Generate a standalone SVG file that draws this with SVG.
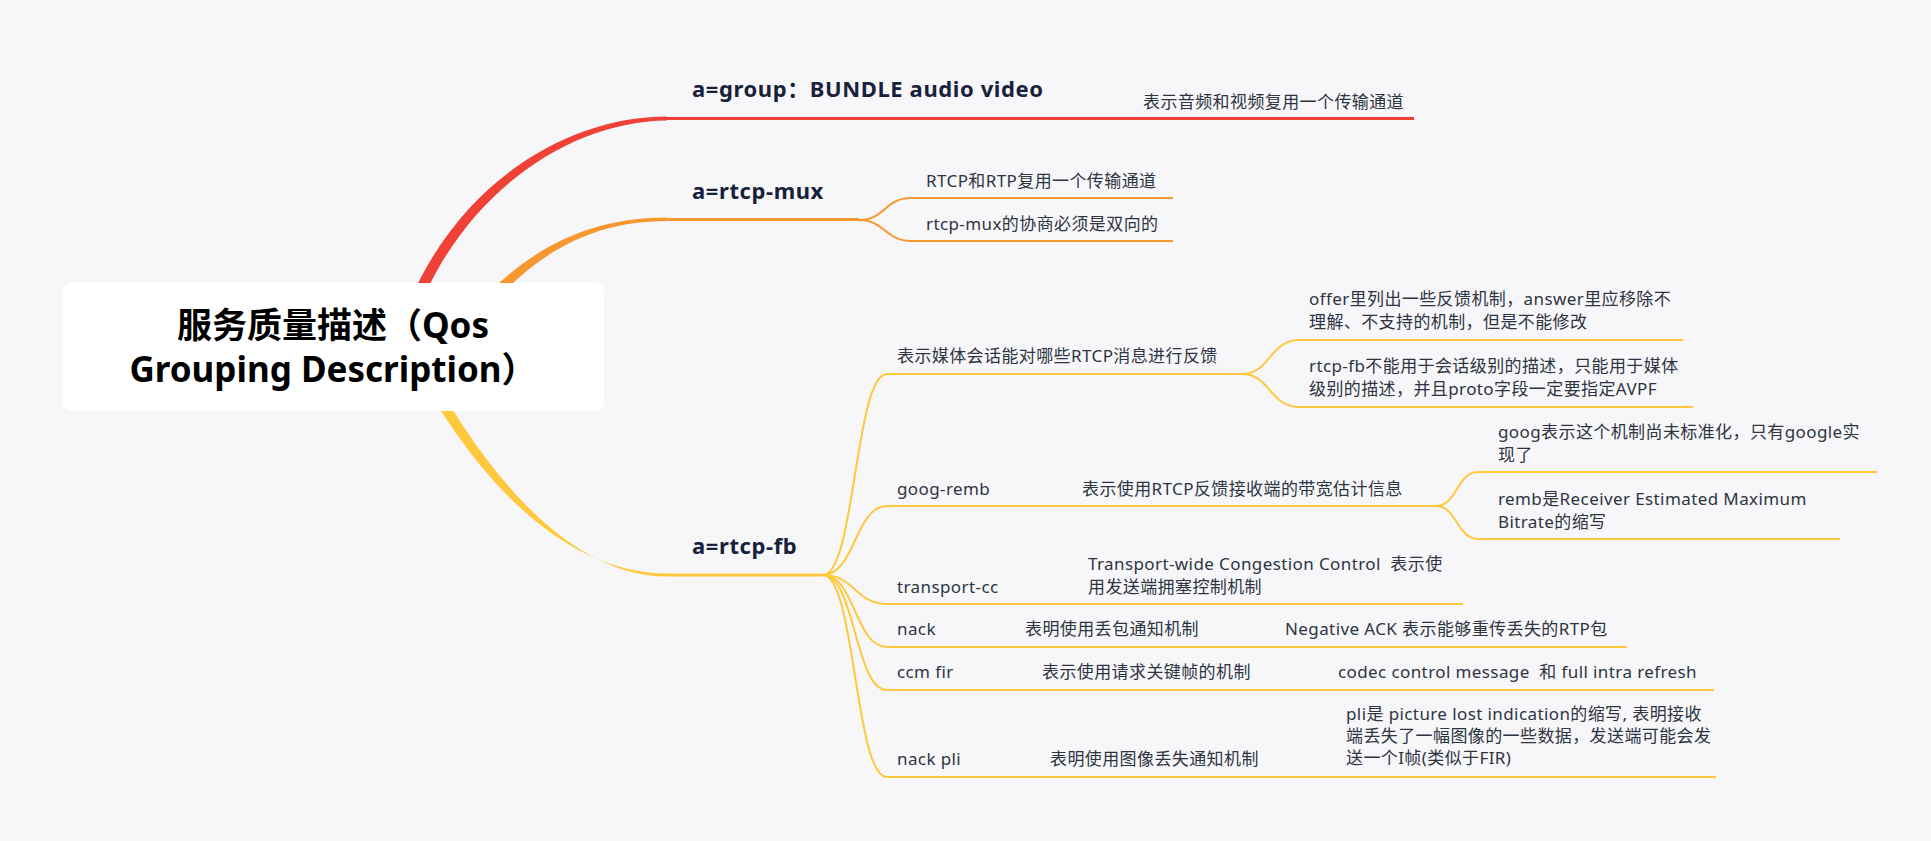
<svg xmlns="http://www.w3.org/2000/svg" width="1931" height="841" viewBox="0 0 1931 841">
<style>
.bg{fill:#F7F7F9}
.lbl{font-family:"Noto Sans","Noto Sans CJK SC",sans-serif;font-weight:700;font-size:22px;letter-spacing:0.6px;fill:#17213A}
.txt{font-family:"Noto Sans","Noto Sans CJK SC",sans-serif;font-size:17px;letter-spacing:0.4px;fill:#2E3442}
.root{font-family:"Noto Sans","Noto Sans CJK SC",sans-serif;font-weight:700;font-size:35px;fill:#000}
.r{stroke:#EF4136;fill:none}
.o{stroke:#F7972F;fill:none}
.y{stroke:#FFC83D;fill:none}
.w3{stroke-width:3}
.w2{stroke-width:2}
</style>
<rect class="bg" x="0" y="0" width="1931" height="841"/>
<g id="connectors">
  <path d="M394,346 C436,196 558,116.5 667,116.5 L667,120.5 C562,121.5 446,204 406,346 Z" fill="#EF4136"/>
  <path class="r w3" d="M667,118.5 L1414,118.5"/>
  <path d="M444,346 C494,278 558,217.5 667,217.5 L667,221 C562,221 506,284 456,346 Z" fill="#F7972F"/>
  <path class="o w3" d="M667,219.5 L859,219.5"/>
  <path class="o w2" d="M859,220 C885,220 885,198 911,198 L1173,198"/>
  <path class="o w2" d="M859,220 C885,220 885,241 911,241 L1173,241"/>
  <path d="M404,346 C484,502 578,573.5 667,573.5 L667,576.5 C582,576.5 496,498 416,346 Z" fill="#FFC83D"/>
  <path class="y w3" d="M667,575 L823,575"/>
  <path class="y w2" d="M823,575 C855,575 855,374 887,374 L1242,374"/>
  <path class="y w2" d="M1242,374 C1270,374 1270,340 1299,340 L1683,340"/>
  <path class="y w2" d="M1242,374 C1270,374 1270,407 1299,407 L1693,407"/>
  <path class="y w2" d="M823,575 C855,575 855,506 887,506 L1436,506"/>
  <path class="y w2" d="M1436,506 C1457,506 1457,472 1478,472 L1877,472"/>
  <path class="y w2" d="M1436,506 C1457,506 1457,539 1478,539 L1840,539"/>
  <path class="y w2" d="M823,575 C855,575 855,604 887,604 L1463,604"/>
  <path class="y w2" d="M823,575 C855,575 855,647 887,647 L1627,647"/>
  <path class="y w2" d="M823,575 C855,575 855,690 887,690 L1714,690"/>
  <path class="y w2" d="M823,575 C855,575 855,777 887,777 L1716,777"/>
</g>
<g id="root">
  <rect x="63" y="283" width="541" height="128" rx="8" fill="#FFFFFF"/>
  <text class="root" x="333" y="338" text-anchor="middle">服务质量描述（Qos</text>
  <text class="root" x="333" y="382" text-anchor="middle">Grouping Description）</text>
</g>
<g id="n-group"><text class="lbl" x="692" y="97">a=group：BUNDLE audio video</text></g>
<g id="n-group-1"><text class="txt" x="1143" y="108">表示音频和视频复用一个传输通道</text></g>
<g id="n-mux"><text class="lbl" x="692" y="199">a=rtcp-mux</text></g>
<g id="n-mux-1"><text class="txt" x="926" y="187">RTCP和RTP复用一个传输通道</text></g>
<g id="n-mux-2"><text class="txt" x="926" y="230">rtcp-mux的协商必须是双向的</text></g>
<g id="n-fb"><text class="lbl" x="692" y="554">a=rtcp-fb</text></g>
<g id="n-fb-1"><text class="txt" x="897" y="362">表示媒体会话能对哪些RTCP消息进行反馈</text></g>
<g id="n-fb-1a"><text class="txt" x="1309" y="305">offer里列出一些反馈机制，answer里应移除不</text><text class="txt" x="1309" y="328">理解、不支持的机制，但是不能修改</text></g>
<g id="n-fb-1b"><text class="txt" x="1309" y="372">rtcp-fb不能用于会话级别的描述，只能用于媒体</text><text class="txt" x="1309" y="395">级别的描述，并且proto字段一定要指定AVPF</text></g>
<g id="n-remb"><text class="txt" x="897" y="495">goog-remb</text></g>
<g id="n-remb-1"><text class="txt" x="1082" y="495">表示使用RTCP反馈接收端的带宽估计信息</text></g>
<g id="n-remb-1a"><text class="txt" x="1498" y="438">goog表示这个机制尚未标准化，只有google实</text><text class="txt" x="1498" y="461">现了</text></g>
<g id="n-remb-1b"><text class="txt" x="1498" y="505">remb是Receiver Estimated Maximum</text><text class="txt" x="1498" y="528">Bitrate的缩写</text></g>
<g id="n-tcc"><text class="txt" x="897" y="593">transport-cc</text></g>
<g id="n-tcc-1"><text class="txt" x="1088" y="570" xml:space="preserve">Transport-wide Congestion Control  表示使</text><text class="txt" x="1088" y="593">用发送端拥塞控制机制</text></g>
<g id="n-nack"><text class="txt" x="897" y="635">nack</text></g>
<g id="n-nack-1"><text class="txt" x="1025" y="635">表明使用丢包通知机制</text></g>
<g id="n-nack-2"><text class="txt" x="1285" y="635">Negative ACK 表示能够重传丢失的RTP包</text></g>
<g id="n-fir"><text class="txt" x="897" y="678">ccm fir</text></g>
<g id="n-fir-1"><text class="txt" x="1042" y="678">表示使用请求关键帧的机制</text></g>
<g id="n-fir-2"><text class="txt" x="1338" y="678" xml:space="preserve">codec control message  和 full intra refresh</text></g>
<g id="n-pli"><text class="txt" x="897" y="765">nack pli</text></g>
<g id="n-pli-1"><text class="txt" x="1050" y="765">表明使用图像丢失通知机制</text></g>
<g id="n-pli-2"><text class="txt" x="1346" y="720">pli是 picture lost indication的缩写, 表明接收</text><text class="txt" x="1346" y="742">端丢失了一幅图像的一些数据，发送端可能会发</text><text class="txt" x="1346" y="764">送一个I帧(类似于FIR)</text></g>
</svg>
